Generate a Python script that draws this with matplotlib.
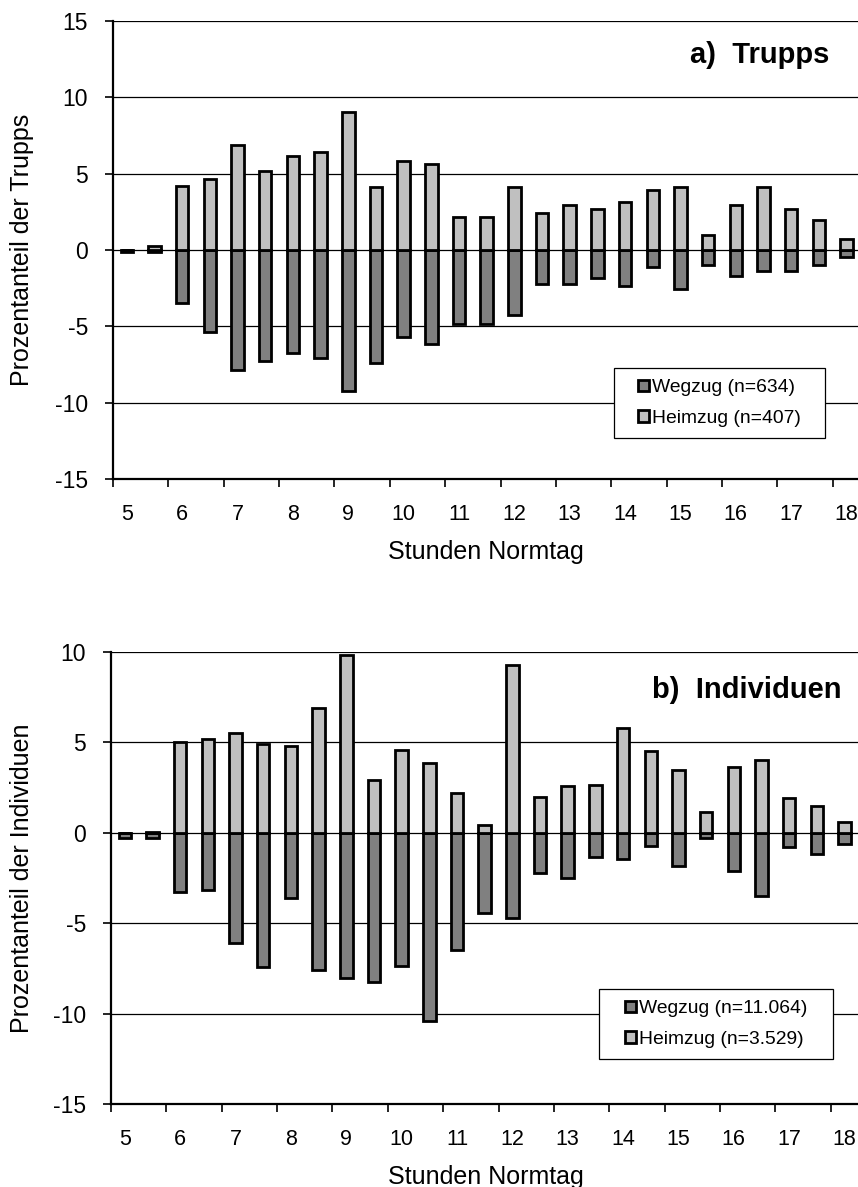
import matplotlib
matplotlib.use("Agg")
import matplotlib.pyplot as plt
from matplotlib.patches import Patch, Rectangle

plt.rcParams['font.family'] = ['Liberation Sans', 'DejaVu Sans']
plt.rcParams['axes.unicode_minus'] = False

# ---------------- data ----------------
hours = [5, 5.5, 6, 6.5, 7, 7.5, 8, 8.5, 9, 9.5, 10, 10.5, 11, 11.5, 12,
         12.5, 13, 13.5, 14, 14.5, 15, 15.5, 16, 16.5, 17, 17.5, 18]
hour_labels = ['5', '6', '7', '8', '9', '10', '11', '12', '13', '14', '15', '16', '17', '18']

# a) Trupps
heim_a = [0.0, 0.25, 4.2, 4.65, 6.9, 5.15, 6.15, 6.4, 9.05, 4.15, 5.85, 5.65, 2.15, 2.15,
          4.15, 2.4, 2.95, 2.65, 3.15, 3.9, 4.15, 0.95, 2.95, 4.15, 2.65, 1.95, 0.7]
weg_a = [-0.1, -0.15, -3.45, -5.35, -7.85, -7.25, -6.75, -7.05, -9.25, -7.4, -5.7, -6.15, -4.85, -4.85,
         -4.25, -2.25, -2.25, -1.85, -2.35, -1.1, -2.55, -0.95, -1.7, -1.4, -1.4, -0.95, -0.45]

# b) Individuen
heim_b = [0.0, 0.05, 5.0, 5.2, 5.5, 4.9, 4.8, 6.9, 9.85, 2.9, 4.6, 3.85, 2.2, 0.45,
          9.3, 2.0, 2.6, 2.65, 5.8, 4.5, 3.45, 1.15, 3.65, 4.0, 1.9, 1.5, 0.6]
weg_b = [-0.3, -0.3, -3.3, -3.15, -6.1, -7.4, -3.6, -7.6, -8.05, -8.25, -7.35, -10.4, -6.5, -4.45,
         -4.7, -2.2, -2.5, -1.35, -1.45, -0.75, -1.85, -0.3, -2.1, -3.5, -0.8, -1.15, -0.6]

legend_a = ['Wegzug (n=634)', 'Heimzug (n=407)']
legend_b = ['Wegzug (n=11.064)', 'Heimzug (n=3.529)']
ylabel_a = 'Prozentanteil der Trupps'
ylabel_b = 'Prozentanteil der Individuen'
xlabel = 'Stunden Normtag'
title_a = 'a)  Trupps'
title_b = 'b)  Individuen'

# ---------------- layout ----------------
W, H = 858, 1187
DPI = 100
fig = plt.figure(figsize=(W / DPI, H / DPI), dpi=DPI)

def fx(px):
    return px / W

def fy(py):
    return 1 - py / H

col_light = '#C0C0C0'
col_dark = '#808080'
CAT_PX = 27.68
EDGE_LW = 2.0


def make_panel(left, top, bottom, ylim, heim, weg, ylabel, title, title_xy, legend_labels, leg_box):
    ax = fig.add_axes([fx(left), fy(bottom), fx(W - left), (bottom - top) / H])
    x = list(range(len(hours)))
    ax.bar(x, weg, width=0.45, color=col_dark, edgecolor='black', linewidth=EDGE_LW, zorder=3)
    ax.bar(x, heim, width=0.45, color=col_light, edgecolor='black', linewidth=EDGE_LW, zorder=3)
    ax.set_xlim(-0.5, -0.5 + (W - left) / CAT_PX)
    ax.set_ylim(*ylim)
    yt = list(range(ylim[0], ylim[1] + 1, 5))
    ax.set_yticks(yt)
    ax.set_yticklabels([str(v) for v in yt])
    ax.set_axisbelow(True)
    ax.yaxis.grid(True, color='black', linewidth=0.9)
    # tick marks between pairs of categories, labels on full hours
    ax.set_xticks([-0.5 + 2 * k for k in range(14)])
    ax.set_xticklabels([])
    ax.set_xticks(list(range(0, len(hours), 2)), minor=True)
    ax.set_xticklabels(hour_labels, minor=True)
    ax.tick_params(axis='x', which='major', direction='out', length=6, width=1.2, color='black')
    ax.tick_params(axis='x', which='minor', length=0, pad=18, labelsize=15.5)
    ax.tick_params(axis='y', direction='out', length=6, width=1.2, pad=12, labelsize=16.5)
    for s in ['top', 'right']:
        ax.spines[s].set_visible(False)
    for s in ['left', 'bottom']:
        ax.spines[s].set_linewidth(1.6)
        ax.spines[s].set_color('black')
    ax.spines['bottom'].set_zorder(4)
    # y label
    fig.text(fx(22.5), fy((top + bottom) / 2), ylabel, rotation=90, ha='center', va='center', fontsize=18)
    # x label
    fig.text(fx(486), fy(bottom + 80), xlabel, ha='center', va='baseline', fontsize=18)
    # title
    fig.text(fx(title_xy[0]), fy(title_xy[1]), title, ha='right', va='baseline',
             fontsize=21, fontweight='bold')
    # legend
    x0, y0, x1, y1 = leg_box
    fig.patches.append(Rectangle((fx(x0), fy(y1)), fx(x1 - x0), (y1 - y0) / H,
                                 transform=fig.transFigure, facecolor='white',
                                 edgecolor='black', linewidth=0.9, zorder=5))
    handles = [Patch(facecolor=col_dark, edgecolor='black', linewidth=EDGE_LW),
               Patch(facecolor=col_light, edgecolor='black', linewidth=EDGE_LW)]
    leg = fig.legend(handles, legend_labels, loc='center',
                     bbox_to_anchor=(fx((x0 + x1) / 2), fy((y0 + y1) / 2)),
                     frameon=False, fontsize=13.9, handlelength=0.55, handleheight=0.55,
                     handletextpad=0.15, labelspacing=0.7, borderpad=0)
    leg.set_zorder(6)
    return ax


make_panel(113, 20.7, 479.3, (-15, 15), heim_a, weg_a, ylabel_a, title_a, (829, 62.7),
           legend_a, (614, 368, 825, 438))
make_panel(111, 652, 1104, (-15, 10), heim_b, weg_b, ylabel_b, title_b, (841, 697.5),
           legend_b, (599, 989, 833, 1059))

fig.savefig('out.png', dpi=DPI)
